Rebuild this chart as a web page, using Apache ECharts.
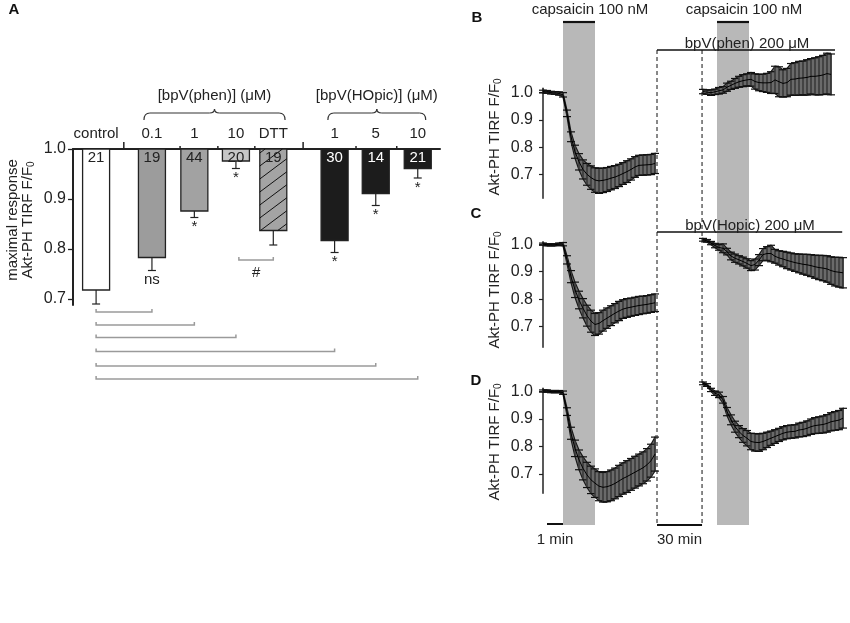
<!DOCTYPE html>
<html>
<head>
<meta charset="utf-8">
<script src="https://cdn.jsdelivr.net/npm/echarts@6/dist/echarts.min.js"></script>
<style>
html, body { margin: 0; padding: 0; background: #fff; }
#main { width: 850px; height: 623px; }
</style>
</head>
<body>
<div id="main"></div>
<script>
// ---------- panel A: maximal response ----------
const barLabels = ['control', '0.1', '1', '10', 'DTT', '1', '5', '10']
const barPos = [0.55, 1.88, 2.89, 3.88, 4.77, 6.23, 7.21, 8.21]
const barValues = [0.718, 0.783, 0.876, 0.976, 0.837, 0.817, 0.911, 0.961]
const barErrors = [0.028, 0.026, 0.013, 0.015, 0.029, 0.024, 0.024, 0.019]
const barN = [21, 19, 44, 20, 19, 30, 14, 21]
const barSig = ['', 'ns', '*', '*', '', '*', '*', '*']
const barFill = ['#ffffff', '#9c9c9c', '#a2a2a2', '#c6c6c6', '#a4a4a4', '#1c1c1c', '#1c1c1c', '#1c1c1c']
const barHatch = [false, false, false, false, true, false, false, false]
const sepTicks = [1.21, 2.55, 3.45, 4.33, 5.48, 6.74, 7.71]
const sepMajor = [true, false, false, false, true, false, false]
const braceLabels = ['[bpV(phen)] (μM)', '[bpV(HOpic)] (μM)']
const braceFrom = [1.69, 6.07]
const braceTo = [5.05, 8.4]
const compEnd = [1.88, 2.89, 3.88, 6.23, 7.21, 8.21]
const compLevel = [0.674, 0.648, 0.623, 0.595, 0.566, 0.54]
const hashFrom = 3.95
const hashTo = 4.77
const hashLevel = 0.778
const yTicksA = [0.7, 0.8, 0.9, 1.0]

// ---------- panels B-D: traces (time in min, 0.25 min steps) ----------
const stepT = 0.25
const leftStart = 0
const rightStart = 10
const capWindows = [[1.25, 3.25], [10.875, 12.875]]
const washLeft = 7.125
const washRight = 9.94

const bLeftMean = [1.004, 1.003, 1.0, 0.999, 0.997, 0.992, 0.924, 0.838, 0.783, 0.746, 0.718, 0.70, 0.688, 0.679, 0.676, 0.678, 0.681, 0.686, 0.69, 0.696, 0.703, 0.71, 0.718, 0.727, 0.733, 0.734, 0.735, 0.736, 0.74]
const bLeftErr = [0.005, 0.005, 0.005, 0.005, 0.006, 0.008, 0.012, 0.018, 0.024, 0.03, 0.035, 0.04, 0.043, 0.045, 0.046, 0.045, 0.044, 0.043, 0.042, 0.041, 0.04, 0.04, 0.039, 0.038, 0.037, 0.037, 0.037, 0.037, 0.037]
const bRightMean = [1.004, 1.002, 1.0, 1.003, 1.007, 1.01, 1.02, 1.027, 1.034, 1.04, 1.044, 1.047, 1.049, 1.041, 1.037, 1.036, 1.036, 1.037, 1.047, 1.04, 1.034, 1.037, 1.049, 1.05, 1.053, 1.054, 1.056, 1.06, 1.06, 1.062, 1.065, 1.07, 1.067]
const bRightErr = [0.008, 0.008, 0.01, 0.01, 0.012, 0.012, 0.015, 0.015, 0.018, 0.02, 0.022, 0.022, 0.025, 0.028, 0.03, 0.032, 0.035, 0.04, 0.05, 0.055, 0.05, 0.052, 0.058, 0.06, 0.062, 0.062, 0.065, 0.065, 0.068, 0.07, 0.072, 0.075, 0.075]

const cLeftMean = [1.0, 0.998, 0.998, 0.998, 1.0, 1.0, 0.943, 0.882, 0.834, 0.797, 0.767, 0.74, 0.72, 0.708, 0.712, 0.722, 0.731, 0.74, 0.749, 0.757, 0.764, 0.768, 0.771, 0.774, 0.777, 0.779, 0.781, 0.784, 0.787]
const cLeftErr = [0.004, 0.004, 0.004, 0.004, 0.004, 0.006, 0.015, 0.022, 0.028, 0.032, 0.035, 0.038, 0.04, 0.04, 0.039, 0.038, 0.037, 0.036, 0.035, 0.035, 0.034, 0.034, 0.033, 0.033, 0.033, 0.032, 0.032, 0.032, 0.032]
const cRightMean = [1.016, 1.012, 1.004, 0.995, 0.988, 0.985, 0.973, 0.957, 0.949, 0.943, 0.937, 0.93, 0.922, 0.926, 0.942, 0.962, 0.966, 0.966, 0.956, 0.95, 0.946, 0.941, 0.937, 0.933, 0.93, 0.927, 0.925, 0.922, 0.918, 0.915, 0.913, 0.91, 0.904, 0.9, 0.898, 0.896]
const cRightErr = [0.005, 0.005, 0.006, 0.008, 0.01, 0.016, 0.012, 0.014, 0.015, 0.015, 0.016, 0.017, 0.018, 0.02, 0.02, 0.022, 0.025, 0.03, 0.025, 0.026, 0.028, 0.03, 0.031, 0.032, 0.034, 0.036, 0.038, 0.04, 0.042, 0.044, 0.046, 0.048, 0.05, 0.052, 0.054, 0.055]

const dLeftMean = [1.002, 1.002, 1.0, 1.0, 1.0, 0.996, 0.927, 0.848, 0.793, 0.751, 0.72, 0.696, 0.678, 0.666, 0.655, 0.651, 0.653, 0.658, 0.665, 0.674, 0.683, 0.69, 0.698, 0.706, 0.714, 0.722, 0.733, 0.748, 0.772]
const dLeftErr = [0.004, 0.004, 0.004, 0.004, 0.004, 0.006, 0.014, 0.022, 0.03, 0.036, 0.042, 0.046, 0.05, 0.052, 0.053, 0.054, 0.055, 0.056, 0.056, 0.057, 0.057, 0.058, 0.058, 0.058, 0.058, 0.058, 0.059, 0.06, 0.062]
const dRightMean = [1.03, 1.024, 1.006, 0.994, 0.988, 0.97, 0.927, 0.897, 0.872, 0.854, 0.84, 0.83, 0.818, 0.815, 0.814, 0.818, 0.824, 0.83, 0.836, 0.842, 0.848, 0.852, 0.854, 0.855, 0.86, 0.862, 0.866, 0.872, 0.876, 0.878, 0.88, 0.884, 0.89, 0.893, 0.896, 0.903]
const dRightErr = [0.005, 0.005, 0.006, 0.008, 0.01, 0.012, 0.015, 0.018, 0.02, 0.022, 0.025, 0.028, 0.03, 0.032, 0.032, 0.03, 0.028, 0.026, 0.025, 0.024, 0.024, 0.024, 0.024, 0.024, 0.025, 0.026, 0.027, 0.028, 0.029, 0.03, 0.031, 0.032, 0.033, 0.034, 0.035, 0.036]
const yTicksTrace = [0.7, 0.8, 0.9, 1.0]

const FONT = 'Liberation Sans, Arial, sans-serif'
const INK = '#222'

function times(start, n) {
  const out = []
  for (let i = 0; i < n; i++) out.push(start + i * stepT)
  return out
}

function hatchLines(x1, y1, x2, y2, slope, gap) {
  const out = []
  for (let c = y1 + 4; c < y2 + slope * (x2 - x1); c += gap) {
    const xa = Math.max(x1 + (c - y2) / slope, x1)
    const xb = Math.min(x1 + (c - y1) / slope, x2)
    if (xb <= xa) continue
    out.push({
      type: 'line',
      shape: { x1: xa, y1: c - slope * (xa - x1), x2: xb, y2: c - slope * (xb - x1) },
      style: { stroke: '#111', lineWidth: 1 }
    })
  }
  return out
}

function txt(x, y, text, extra) {
  return Object.assign({
    type: 'text', x: x, y: y,
    style: { text: text, fontFamily: FONT, fontSize: 15, fill: INK, align: 'center', verticalAlign: 'middle' }
  }, extra || {})
}

// ---------- panel A series ----------
const barSeries = {
  type: 'custom', xAxisIndex: 0, yAxisIndex: 0, z: 3, silent: true,
  data: barPos.map((p, i) => [p, barValues[i], barErrors[i]]),
  renderItem(params, api) {
    const i = params.dataIndex
    const x = api.value(0), v = api.value(1), e = api.value(2)
    const p0 = api.coord([x, 1.0]), p1 = api.coord([x, v]), pe = api.coord([x, v - e])
    const w = 27
    const dark = barFill[i] === '#1c1c1c'
    const kids = []
    kids.push({ type: 'rect', shape: { x: p0[0] - w / 2, y: p0[1], width: w, height: p1[1] - p0[1] },
      style: { fill: barFill[i], stroke: '#222', lineWidth: 1.3 } })
    if (barHatch[i]) {
      hatchLines(p0[0] - w / 2, p0[1], p0[0] + w / 2, p1[1], 0.75, 13).forEach(h => kids.push(h))
    }
    kids.push({ type: 'line', shape: { x1: p1[0], y1: p1[1], x2: pe[0], y2: pe[1] }, style: { stroke: '#222', lineWidth: 1.2 } })
    kids.push({ type: 'line', shape: { x1: pe[0] - 4, y1: pe[1], x2: pe[0] + 4, y2: pe[1] }, style: { stroke: '#222', lineWidth: 1.2 } })
    kids.push({ type: 'text', x: p0[0], y: p0[1] + 1,
      style: { text: String(barN[i]), fontFamily: FONT, fontSize: 15, fill: dark ? '#fff' : INK, align: 'center', verticalAlign: 'top' } })
    kids.push({ type: 'text', x: p0[0], y: p0[1] - 8,
      style: { text: barLabels[i], fontFamily: FONT, fontSize: 15, fill: INK, align: 'center', verticalAlign: 'bottom' } })
    if (barSig[i]) {
      kids.push({ type: 'text', x: pe[0], y: pe[1] + 2,
        style: { text: barSig[i], fontFamily: FONT, fontSize: 15, fill: INK, align: 'center', verticalAlign: 'top' } })
    }
    return { type: 'group', children: kids }
  }
}

const sepSeries = {
  type: 'custom', xAxisIndex: 0, yAxisIndex: 0, z: 4, silent: true,
  data: sepTicks.map(p => [p, 1.0]),
  renderItem(params, api) {
    const p = api.coord([api.value(0), 1.0])
    const h = sepMajor[params.dataIndex] ? 7 : 3
    return { type: 'line', shape: { x1: p[0], y1: p[1], x2: p[0], y2: p[1] - h }, style: { stroke: INK, lineWidth: 1.5 } }
  }
}

const braceSeries = {
  type: 'custom', xAxisIndex: 0, yAxisIndex: 0, z: 4, silent: true,
  data: braceFrom.map((f, i) => [f, braceTo[i]]),
  renderItem(params, api) {
    const a = api.coord([api.value(0), 1.0]), b = api.coord([api.value(1), 1.0])
    const y = a[1] - 36, x1 = a[0], x2 = b[0], xc = (x1 + x2) / 2
    const st = { stroke: '#333', lineWidth: 1.2, fill: 'none' }
    return { type: 'group', children: [
      { type: 'bezierCurve', shape: { x1: x1, y1: y + 7, cpx1: x1, cpy1: y, x2: x1 + 6, y2: y }, style: st },
      { type: 'line', shape: { x1: x1 + 6, y1: y, x2: xc - 5, y2: y }, style: st },
      { type: 'bezierCurve', shape: { x1: xc - 5, y1: y, cpx1: xc, cpy1: y, x2: xc, y2: y - 4 }, style: st },
      { type: 'bezierCurve', shape: { x1: xc + 5, y1: y, cpx1: xc, cpy1: y, x2: xc, y2: y - 4 }, style: st },
      { type: 'line', shape: { x1: xc + 5, y1: y, x2: x2 - 6, y2: y }, style: st },
      { type: 'bezierCurve', shape: { x1: x2 - 6, y1: y, cpx1: x2, cpy1: y, x2: x2, y2: y + 7 }, style: st },
      txt(xc, y - 17, braceLabels[params.dataIndex])
    ] }
  }
}

const compSeries = {
  type: 'custom', xAxisIndex: 0, yAxisIndex: 0, z: 4, silent: true,
  data: compEnd.map((e, i) => [barPos[0], e, compLevel[i]]),
  renderItem(params, api) {
    const a = api.coord([api.value(0), api.value(2)]), b = api.coord([api.value(1), api.value(2)])
    return { type: 'polyline', shape: { points: [[a[0], a[1] - 3], a, b, [b[0], b[1] - 3]] },
      style: { stroke: '#9a9a9a', lineWidth: 1.5, fill: 'none' } }
  }
}

const hashSeries = {
  type: 'custom', xAxisIndex: 0, yAxisIndex: 0, z: 4, silent: true,
  data: [[hashFrom, hashTo, hashLevel]],
  renderItem(params, api) {
    const a = api.coord([api.value(0), api.value(2)]), b = api.coord([api.value(1), api.value(2)])
    return { type: 'group', children: [
      { type: 'polyline', shape: { points: [[a[0], a[1] - 3], a, b, [b[0], b[1] - 3]] },
        style: { stroke: '#9a9a9a', lineWidth: 1.5, fill: 'none' } },
      txt((a[0] + b[0]) / 2, a[1] + 13, '#')
    ] }
  }
}

// ---------- trace series ----------
function traceSeries(g, t, mean, err) {
  const band = {
    type: 'custom', xAxisIndex: g, yAxisIndex: g, z: 3, silent: true,
    data: [[t[0], mean[0]]],
    renderItem(params, api) {
      const pts = []
      for (let i = 0; i < t.length; i++) pts.push(api.coord([t[i], mean[i] + err[i]]))
      for (let i = t.length - 1; i >= 0; i--) pts.push(api.coord([t[i], mean[i] - err[i]]))
      return { type: 'polygon', shape: { points: pts }, style: { fill: '#6a6a6a', stroke: '#1a1a1a', lineWidth: 1.2 } }
    }
  }
  const bars = {
    type: 'custom', xAxisIndex: g, yAxisIndex: g, z: 4, silent: true,
    data: t.map((v, i) => [v, mean[i], err[i]]),
    renderItem(params, api) {
      const x = api.value(0), m = api.value(1), e = api.value(2)
      const hi = api.coord([x, m + e]), lo = api.coord([x, m - e])
      const cs = { stroke: '#111', lineWidth: 1.2 }
      return { type: 'group', children: [
        { type: 'line', shape: { x1: hi[0], y1: hi[1], x2: lo[0], y2: lo[1] }, style: { stroke: '#3a3a3a', lineWidth: 1.6 } },
        { type: 'line', shape: { x1: hi[0] - 4, y1: hi[1], x2: hi[0] + 4, y2: hi[1] }, style: cs },
        { type: 'line', shape: { x1: lo[0] - 4, y1: lo[1], x2: lo[0] + 4, y2: lo[1] }, style: cs }
      ] }
    }
  }
  const line = {
    type: 'line', xAxisIndex: g, yAxisIndex: g, z: 5, silent: true, clip: false,
    showSymbol: false, symbol: 'none',
    data: t.map((v, i) => [v, mean[i]]),
    lineStyle: { color: '#000', width: 1 }
  }
  return [band, bars, line]
}

function traceY(g, min, max) {
  return {
    gridIndex: g, type: 'value', min: min, max: max,
    axisLine: { show: true, onZero: false, lineStyle: { color: INK, width: 1.5 } },
    axisTick: { show: true, length: 4, customValues: yTicksTrace, lineStyle: { color: INK, width: 1.2 } },
    axisLabel: { customValues: yTicksTrace, formatter: v => v.toFixed(1), fontSize: 16, margin: 10, color: INK, fontFamily: FONT },
    splitLine: { show: false }
  }
}

function traceX(g) {
  return { gridIndex: g, type: 'value', min: 0, max: 18.75, show: false }
}

const traces = [
  [1, bLeftMean, bLeftErr, bRightMean, bRightErr],
  [2, cLeftMean, cLeftErr, cRightMean, cRightErr],
  [3, dLeftMean, dLeftErr, dRightMean, dRightErr]
]
const traceSeriesList = []
traces.forEach(tr => {
  const [g, lm, le, rm, re] = tr
  traceSeriesList.push(...traceSeries(g, times(leftStart, lm.length), lm, le))
  traceSeriesList.push(...traceSeries(g, times(rightStart, rm.length), rm, re))
})

const chart = echarts.init(document.getElementById('main'), null, { renderer: 'canvas' })
chart.setOption({
  animation: false,
  backgroundColor: '#fff',
  textStyle: { fontFamily: FONT, color: INK },
  grid: [
    { left: 73, top: 149, width: 367, height: 156 },
    { left: 543, top: 88.3, width: 300, height: 110 },
    { left: 543, top: 241.7, width: 300, height: 105.6 },
    { left: 543, top: 388.3, width: 300, height: 105 }
  ],
  xAxis: [
    { gridIndex: 0, type: 'value', min: 0, max: 8.74, position: 'top',
      axisLine: { onZero: false, lineStyle: { color: INK, width: 2 } },
      axisTick: { show: false }, axisLabel: { show: false }, splitLine: { show: false } },
    traceX(1), traceX(2), traceX(3)
  ],
  yAxis: [
    { gridIndex: 0, type: 'value', min: 0.688, max: 1.0,
      axisLine: { show: true, onZero: false, lineStyle: { color: INK, width: 2 } },
      axisTick: { show: true, length: 5, customValues: yTicksA, lineStyle: { color: INK, width: 1.3 } },
      axisLabel: { customValues: yTicksA, formatter: v => v.toFixed(1), fontSize: 16, margin: 7, color: INK, fontFamily: FONT },
      splitLine: { show: false } },
    traceY(1, 0.612, 1.016), traceY(2, 0.625, 1.009), traceY(3, 0.629, 1.012)
  ],
  series: [barSeries, sepSeries, braceSeries, compSeries, hashSeries, ...traceSeriesList]
})

// ---------- annotations placed through the trace x scale ----------
const px = t => chart.convertToPixel({ xAxisIndex: 1 }, t)
const subRich = { sub: { fontSize: 10, verticalAlign: 'bottom', padding: [7, 0, 0, 0], fontFamily: FONT } }
function yName(x, y, text) {
  return { type: 'text', x: x, y: y, rotation: Math.PI / 2, z: 10,
    style: { text: text, rich: subRich, fontFamily: FONT, fontSize: 15, fill: INK, align: 'center', verticalAlign: 'middle' } }
}
function seg(x1, y1, x2, y2, w, dash) {
  return { type: 'line', z: 10, shape: { x1: x1, y1: y1, x2: x2, y2: y2 },
    style: { stroke: '#111', lineWidth: w, lineDash: dash || null } }
}
const gfx = []
capWindows.forEach(c => {
  gfx.push({ type: 'rect', z: 0, shape: { x: px(c[0]), y: 22, width: px(c[1]) - px(c[0]), height: 503 }, style: { fill: '#b8b8b8' } })
  gfx.push(seg(px(c[0]), 22, px(c[1]), 22, 2.2))
  gfx.push({ type: 'text', z: 10, x: (px(c[0]) + px(c[1])) / 2 + 11, y: 10,
    style: { text: 'capsaicin 100 nM', fontFamily: FONT, fontSize: 15, fill: INK, align: 'center', verticalAlign: 'middle' } })
})
gfx.push(seg(px(washLeft), 50, px(washLeft), 525, 1, [4, 3]))
gfx.push(seg(px(washRight), 50, px(washRight), 525, 1, [4, 3]))
gfx.push(seg(px(washLeft), 50, px(18.25), 50, 1.5))
gfx.push({ type: 'text', z: 10, x: 747, y: 51,
  style: { text: 'bpV(phen) 200 μM', fontFamily: FONT, fontSize: 15, fill: INK, align: 'center', verticalAlign: 'bottom' } })
gfx.push(seg(px(washLeft), 232, px(18.7), 232, 1.5))
gfx.push({ type: 'text', z: 10, x: 750, y: 233,
  style: { text: 'bpV(Hopic) 200 μM', fontFamily: FONT, fontSize: 15, fill: INK, align: 'center', verticalAlign: 'bottom' } })
gfx.push(seg(px(0.25), 524, px(1.25), 524, 2))
gfx.push(seg(px(washLeft), 525, px(washRight), 525, 2))
gfx.push({ type: 'text', z: 10, x: (px(0.25) + px(1.25)) / 2, y: 540,
  style: { text: '1 min', fontFamily: FONT, fontSize: 15, fill: INK, align: 'center', verticalAlign: 'middle' } })
gfx.push({ type: 'text', z: 10, x: (px(washLeft) + px(washRight)) / 2, y: 540,
  style: { text: '30 min', fontFamily: FONT, fontSize: 15, fill: INK, align: 'center', verticalAlign: 'middle' } })
gfx.push(yName(495, 137, 'Akt-PH TIRF F/F{sub|0}'))
gfx.push(yName(495, 290, 'Akt-PH TIRF F/F{sub|0}'))
gfx.push(yName(495, 442, 'Akt-PH TIRF F/F{sub|0}'))
gfx.push(yName(13, 220, 'maximal response'))
gfx.push(yName(28, 220, 'Akt-PH TIRF F/F{sub|0}'))
const letters = [['A', 14, 10], ['B', 477, 18], ['C', 476, 214], ['D', 476, 381]]
letters.forEach(l => gfx.push({ type: 'text', z: 10, x: l[1], y: l[2],
  style: { text: l[0], fontFamily: FONT, fontSize: 15, fontWeight: 'bold', fill: '#111', align: 'center', verticalAlign: 'middle' } }))
chart.setOption({ graphic: { elements: gfx } })
</script>
</body>
</html>
